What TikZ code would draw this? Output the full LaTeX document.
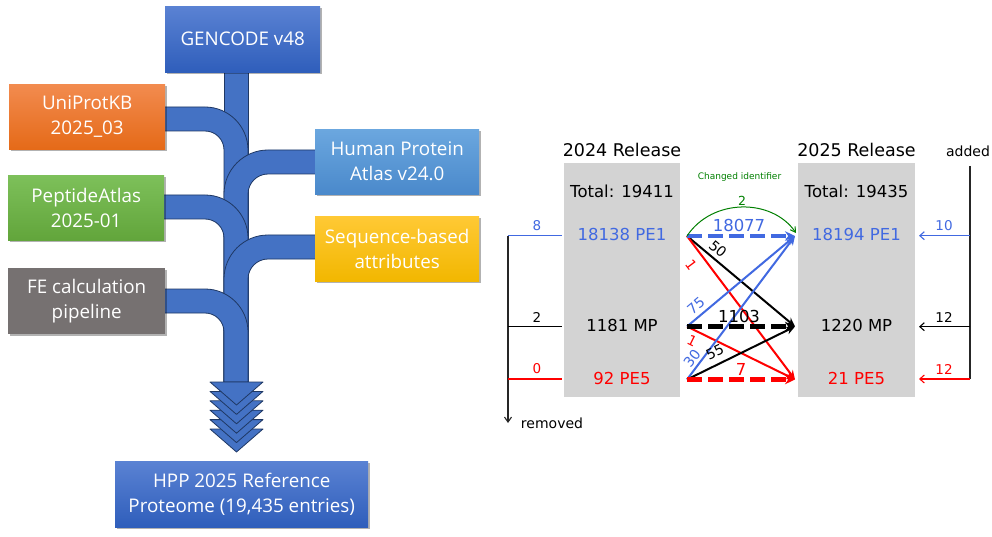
\documentclass[tikz,border=0pt]{standalone}
\usepackage{fontspec}
\newfontfamily\lfont{Open Sans}
\newfontfamily\rfont{DejaVu Sans}
\usetikzlibrary{arrows.meta,shadows}
\definecolor{tubeblue}{HTML}{4472C4}
\definecolor{tubeline}{HTML}{1F3864}
\definecolor{gtop}{HTML}{5A82D3}
\definecolor{gbot}{HTML}{2F5EBB}
\definecolor{otop}{HTML}{F28B4F}
\definecolor{obot}{HTML}{E56A18}
\definecolor{ptop}{HTML}{7DC05A}
\definecolor{pbot}{HTML}{62A53B}
\definecolor{fegray}{HTML}{767171}
\definecolor{htop}{HTML}{6BA7DF}
\definecolor{hbot}{HTML}{4A89CB}
\definecolor{ytop}{HTML}{FFC935}
\definecolor{ybot}{HTML}{F2B700}
\definecolor{rblue}{HTML}{4169E1}
\definecolor{rgreen}{HTML}{008000}
\definecolor{relgray}{HTML}{D3D3D3}
\begin{document}
\begin{tikzpicture}[x=1pt,y=-1pt,
  srcbox/.style={rectangle, anchor=north west, inner sep=0pt, align=center,
    text=white, font=\lfont\fontsize{18.8}{25}\selectfont,
    drop shadow={shadow xshift=1.5pt, shadow yshift=-1.8pt, opacity=0.3, fill=black}},
  tube/.style={fill=tubeblue, draw=tubeline, line width=0.8pt, line join=round},
  rel/.style={font=\rfont\fontsize{16.5}{19}\selectfont, inner sep=0pt},
  head/.style={font=\rfont\fontsize{17.5}{20}\selectfont, inner sep=0pt},
  side/.style={font=\rfont\fontsize{13.5}{15}\selectfont, inner sep=0pt},
  flab/.style={font=\rfont\fontsize{14}{16}\selectfont, inner sep=0pt},
  thinflow/.style={line width=2pt, -{Stealth[length=9pt,width=8pt]}},
  thickflow/.style={line width=4.2pt, dash pattern=on 15pt off 6pt, -{Stealth[length=10pt,width=9.5pt]}},
  sideline/.style={line width=1.1pt}
]
\useasboundingbox (0,0) rectangle (992,537);
\fill[white] (0,0) rectangle (992,537);

% ---------------- left: tubes ----------------
\draw[tube] (224,70) rectangle (248,382);
% UniProt band
\draw[tube] (160,107) -- (205,107) .. controls (228.7,107) and (248,126.3) .. (248,150)
  -- (248,382) -- (224,382) -- (224,150) .. controls (224,139.5) and (215.5,131) .. (205,131)
  -- (160,131) -- cycle;
% HPA band
\draw[tube] (320,150) -- (268,150) .. controls (243.7,150) and (224,169.7) .. (224,194)
  -- (224,382) -- (248,382) -- (248,194) .. controls (248,183) and (257,174) .. (268,174)
  -- (320,174) -- cycle;
% PeptideAtlas band
\draw[tube] (160,195) -- (205,195) .. controls (228.7,195) and (248,214.3) .. (248,238)
  -- (248,382) -- (224,382) -- (224,238) .. controls (224,227.5) and (215.5,219) .. (205,219)
  -- (160,219) -- cycle;
% Sequence band
\draw[tube] (320,235) -- (268,235) .. controls (243.7,235) and (224,254.7) .. (224,279)
  -- (224,382) -- (248,382) -- (248,279) .. controls (248,268) and (257,259) .. (268,259)
  -- (320,259) -- cycle;
% FE band
\draw[tube] (160,289) -- (205,289) .. controls (228.7,289) and (248,308.3) .. (248,332)
  -- (248,382) -- (224,382) -- (224,332) .. controls (224,321.5) and (215.5,313) .. (205,313)
  -- (160,313) -- cycle;
% chevrons (bottom one first)
\foreach \k in {5,4,3,2,1,0}{
  \pgfmathsetmacro{\yy}{382+9.4*\k}
  \draw[tube] (210,\yy) -- (263,\yy) -- (236.5,\yy+23) -- cycle;
}

% ---------------- left: boxes ----------------
\node[srcbox, top color=gtop, bottom color=gbot, minimum width=155pt, minimum height=66pt] (gencode) at (165,6) {GENCODE v48};
\node[srcbox, top color=otop, bottom color=obot, minimum width=156pt, minimum height=65pt] (uniprot) at (9,84) {UniProtKB\\2025\_03};
\node[srcbox, top color=ptop, bottom color=pbot, minimum width=156pt, minimum height=65pt] (pepatlas) at (8,175) {PeptideAtlas\\2025-01};
\node[srcbox, fill=fegray, minimum width=157pt, minimum height=66pt] (fecalc) at (8,268) {FE calculation\\pipeline};
\node[srcbox, top color=htop, bottom color=hbot, minimum width=164pt, minimum height=65pt] (hpa) at (315,129) {Human Protein\\Atlas v24.0};
\node[srcbox, top color=ytop, bottom color=ybot, minimum width=164pt, minimum height=65pt] (seqattr) at (315,216) {Sequence-based\\attributes};
\node[srcbox, top color=gtop, bottom color=gbot, minimum width=253pt, minimum height=66pt] (hpp) at (115,461) {HPP 2025 Reference\\Proteome (19,435 entries)};

% ---------------- right: release boxes ----------------
\fill[relgray] (564,163) rectangle (680,397);
\fill[relgray] (798,163) rectangle (915,397);

\node[head] (h24) at (622,150) {2024 Release};
\node[head] (h25) at (856.5,150) {2025 Release};
\node[rel] (tot24) at (622,191.5) {Total: 19411};
\node[rel] (tot25) at (856.5,191.5) {Total: 19435};
\node[rel, text=rblue] (pe1a) at (622,234) {18138 PE1};
\node[rel] (mpa) at (622,325.5) {1181 MP};
\node[rel, text=red] (pe5a) at (622,378.5) {92 PE5};
\node[rel, text=rblue] (pe1b) at (856.5,234) {18194 PE1};
\node[rel] (mpb) at (856.5,325.5) {1220 MP};
\node[rel, text=red] (pe5b) at (856.5,378.5) {21 PE5};

% anchors of the flows
\coordinate (s1) at (687,236);
\coordinate (s2) at (687,326.5);
\coordinate (s3) at (687,379.5);
\coordinate (t1) at (795,236);
\coordinate (t2) at (795,326.5);
\coordinate (t3) at (795,379.5);

% thin flows
\draw[thinflow, black] (s1) -- (t2);
\draw[thinflow, red] (s1) -- (t3);
\draw[thinflow, rblue] (s2) -- (t1);
\draw[thinflow, red] (s2) -- (t3);
\draw[thinflow, rblue] (s3) -- (t1);
\draw[thinflow, black] (s3) -- (t2);
% thick flows
\draw[thickflow, rblue] (s1) -- (t1);
\draw[thickflow, black] (s2) -- (t2);
\draw[thickflow, red] (s3) -- (t3);
% changed identifier
\coordinate (g2) at (796,233);
\draw[rgreen, line width=1pt, -{Straight Barb[length=5pt,width=6pt]}] (s1) .. controls (712,198) and (772,198) .. (g2);

% flow labels
\node[font=\rfont\fontsize{9}{10}\selectfont, text=rgreen, inner sep=0pt] (chid) at (739.5,177) {Changed identifier};
\node[flab, text=rgreen, font=\rfont\fontsize{12.5}{14}\selectfont] (l2) at (742,201) {2};
\node[rel, text=rblue] (l18077) at (739,225) {18077};
\node[rel] (l1103) at (739,316.5) {1103};
\node[rel, text=red] (l7) at (741,369) {7};
\node[flab, rotate=-40] (l50) at (718,249) {50};
\node[flab, text=red, rotate=-53] (l1a) at (691,265) {1};
\node[flab, text=rblue, rotate=40] (l75) at (696,306) {75};
\node[flab, text=red, rotate=-26] (l1b) at (692,341) {1};
\node[flab, text=rblue, rotate=53] (l30) at (692,358) {30};
\node[flab, rotate=26] (l55) at (715,352) {55};

% removed
\coordinate (rtop) at (508,235.7);
\coordinate (rm2) at (508,326.7);
\coordinate (rm3) at (508,379);
\coordinate (rbot) at (508,423);
\coordinate (re1) at (562,235.7);
\coordinate (re2) at (562,326.7);
\coordinate (re3) at (562,379);
\draw[sideline, black!85, -{Straight Barb[length=5pt,width=7pt]}] (rtop) -- (rbot);
\draw[sideline, rblue] (rtop) -- (re1);
\draw[sideline, black] (rm2) -- (re2);
\draw[sideline, red] (rm3) -- (re3);
\node[side, text=rblue] (n8) at (537,226) {8};
\node[side] (n2) at (537,317) {2};
\node[side, text=red] (n0) at (537,369) {0};
\node[font=\rfont\fontsize{14}{16}\selectfont, inner sep=0pt] (removed) at (552,423) {removed};

% added
\coordinate (atop) at (970,166);
\coordinate (a1) at (970,235.7);
\coordinate (a2) at (970,326.7);
\coordinate (a3) at (970,379);
\coordinate (ae1) at (919,235.7);
\coordinate (ae2) at (919,326.7);
\coordinate (ae3) at (919,379);
\draw[sideline, black!85] (atop) -- (a3);
\draw[sideline, rblue, -{Straight Barb[length=4.5pt,width=8pt]}] (a1) -- (ae1);
\draw[sideline, black, -{Straight Barb[length=4.5pt,width=8pt]}] (a2) -- (ae2);
\draw[sideline, red, -{Straight Barb[length=4.5pt,width=8pt]}] (a3) -- (ae3);
\node[side, text=rblue] (n10) at (944,226) {10};
\node[side] (n12a) at (944,317) {12};
\node[side, text=red] (n12b) at (944,369) {12};
\node[font=\rfont\fontsize{14}{16}\selectfont, inner sep=0pt] (added) at (968,151) {added};
\end{tikzpicture}
\end{document}
